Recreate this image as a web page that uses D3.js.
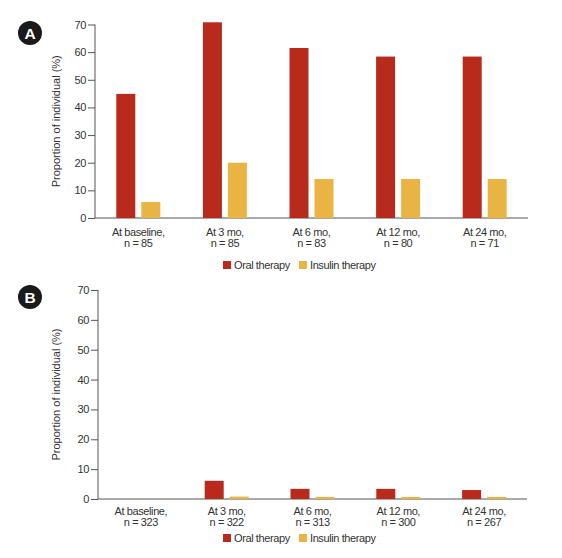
<!DOCTYPE html>
<html><head><meta charset="utf-8">
<script src="https://cdn.jsdelivr.net/npm/d3@7"></script>
<style>body{margin:0;background:#fff}svg{display:block}text{font-family:"Liberation Sans",Arial,sans-serif}.nar{letter-spacing:-0.4px}</style>
</head><body>
<svg id="chart" width="562" height="558"></svg>
<script>
const categoriesA = ["At baseline,|n = 85","At 3 mo,|n = 85","At 6 mo,|n = 83","At 12 mo,|n = 80","At 24 mo,|n = 71"];
const oralA = [44.9, 70.8, 61.5, 58.4, 58.4];
const insulinA = [5.8, 20.0, 14.1, 14.1, 14.1];
const categoriesB = ["At baseline,|n = 323","At 3 mo,|n = 322","At 6 mo,|n = 313","At 12 mo,|n = 300","At 24 mo,|n = 267"];
const oralB = [0, 6.1, 3.4, 3.4, 3.0];
const insulinB = [0, 0.8, 0.7, 0.7, 0.7];
const yTicks = [0,10,20,30,40,50,60,70];
const seriesNames = ["Oral therapy","Insulin therapy"];
const colors = ["#B72A1C","#E9B443"];
const yTitle = "Proportion of individual (%)";

const svg = d3.select("#chart");

function panel(cfg){
  const {label, cats, oral, ins, x0, x1, yTop, yBot, badgeY, labelY, legendY} = cfg;
  const g = svg.append("g");
  const x = d3.scaleBand().domain(d3.range(cats.length)).range([x0, x1]);
  const y = d3.scaleLinear().domain([0,70]).range([yBot, yTop]);
  // y axis
  const ya = g.append("g").attr("transform",`translate(${x0},0)`)
    .call(d3.axisLeft(y).tickValues(yTicks).tickSize(7).tickPadding(2));
  ya.select(".domain").attr("stroke","#555").attr("d",`M-0,${yTop}V${yBot}`);
  ya.selectAll(".tick line").attr("stroke","#555");
  ya.selectAll(".tick text").attr("class","nar").attr("fill","#333").style("font-size","11px");
  // x axis line
  g.append("line").attr("x1",x0).attr("x2",x1).attr("y1",yBot).attr("y2",yBot).attr("stroke","#555");
  // bars
  const bw = 19;
  cats.forEach((c,i)=>{
    const cx = x(i) + x.bandwidth()/2;
    [oral[i], ins[i]].forEach((v,s)=>{
      if (v<=0) return;
      const bx = s===0 ? cx-22 : cx+3;
      g.append("rect").attr("x",bx).attr("width",bw)
        .attr("y",y(v)).attr("height",yBot-y(v)).attr("fill",colors[s]);
    });
    const parts = c.split("|");
    const t = g.append("text").attr("class","nar").attr("x",cx).attr("y",labelY).attr("text-anchor","middle")
      .attr("fill","#333").style("font-size","11px");
    parts.forEach((p,k)=>t.append("tspan").attr("x",cx).attr("dy",k===0?0:11).text(p));
  });
  // y title
  g.append("text").attr("transform",`translate(${60},${(yTop+yBot)/2}) rotate(-90)`)
    .attr("text-anchor","middle").attr("fill","#333").style("font-size","11px").text(yTitle);
  // badge
  g.append("circle").attr("cx",30).attr("cy",badgeY).attr("r",12).attr("fill","#1a1a1a");
  g.append("text").attr("x",30).attr("y",badgeY+5.5).attr("text-anchor","middle")
    .attr("fill","#fff").style("font-size","15.5px").style("font-weight","bold").text(label);
  // legend
  const lx = [223, 299];
  seriesNames.forEach((n,s)=>{
    g.append("rect").attr("x",lx[s]).attr("y",legendY-7).attr("width",8).attr("height",8).attr("fill",colors[s]);
    g.append("text").attr("class","nar").attr("x",lx[s]+11).attr("y",legendY+1).attr("fill","#333").style("font-size","11px").text(n);
  });
}

panel({label:"A", cats:categoriesA, oral:oralA, ins:insulinA, x0:95, x1:528, yTop:24.5, yBot:218, badgeY:33, labelY:236, legendY:268});
panel({label:"B", cats:categoriesB, oral:oralB, ins:insulinB, x0:98, x1:527, yTop:290, yBot:499, badgeY:297, labelY:515, legendY:541});
</script>
</body></html>
